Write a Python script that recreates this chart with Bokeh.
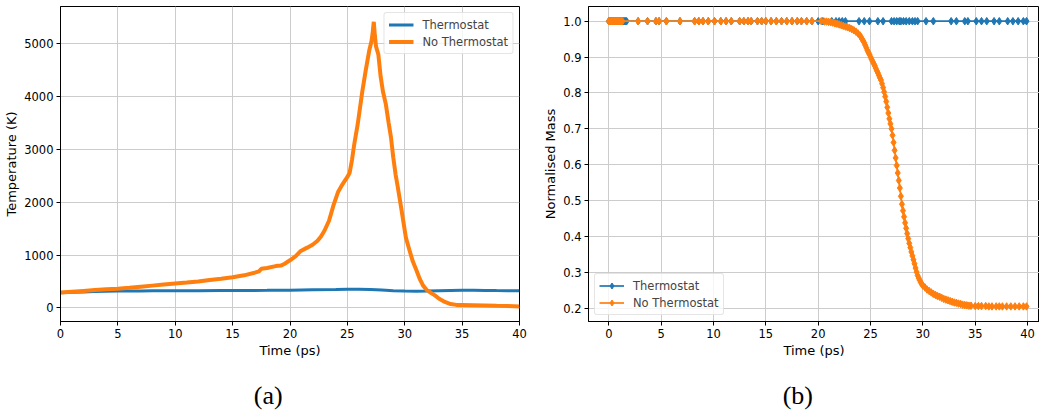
from bokeh.plotting import figure
from bokeh.layouts import row, column
from bokeh.models import Range1d, FixedTicker, NumeralTickFormatter, Label
from bokeh.embed import file_html
from bokeh.resources import INLINE

# ---------------- data ----------------
time_ticks = [0, 5, 10, 15, 20, 25, 30, 35, 40]
temp_ticks = [0, 1000, 2000, 3000, 4000, 5000]
mass_ticks = [0.2, 0.3, 0.4, 0.5, 0.6, 0.7, 0.8, 0.9, 1.0]

# (a) temperature
temp_thermo_t = [0, 1, 2, 3, 4, 5, 6, 7, 8, 9, 10, 12, 14, 16, 18, 20, 22, 24, 25, 26,
                 27, 28, 29, 30, 31, 32, 33, 34, 35, 36, 37, 38, 39, 40]
temp_thermo = [285, 293, 300, 307, 312, 317, 319, 320, 321, 322, 323, 324, 326, 328, 330,
               333, 340, 346, 350, 350, 345, 335, 325, 316, 313, 318, 325, 328, 330, 330,
               328, 326, 325, 324]

temp_nothermo_t = [0, 1, 2, 3, 4, 5, 6, 7, 8, 9, 10, 11, 12, 13, 14, 15, 16, 17, 17.3, 17.5,
                   18, 18.75, 19.2, 19.5, 20, 20.5, 20.9, 21.5, 22, 22.4, 22.7, 23, 23.4,
                   23.8, 24.2, 24.6, 25.0, 25.2, 25.4, 25.6, 25.9, 26.3, 26.6, 26.9, 27.1,
                   27.2, 27.3, 27.4, 27.5, 27.7, 27.9, 28.1, 28.35, 28.6, 28.8, 29.0, 29.2,
                   29.4, 29.7, 30.1, 30.4, 30.7, 31.0, 31.3, 31.6, 31.9, 32.3, 32.6, 33.0,
                   33.5, 34.0, 34.5, 35, 36, 37, 38, 39, 40]
temp_nothermo = [290, 305, 320, 335, 350, 362, 380, 400, 420, 440, 460, 478, 500, 525, 550,
                 580, 615, 670, 690, 740, 755, 790, 800, 830, 900, 980, 1070, 1140, 1200,
                 1270, 1350, 1460, 1650, 1950, 2200, 2350, 2480, 2560, 2800, 3100, 3480,
                 4100, 4500, 4870, 5050, 5200, 5420, 5150, 4950, 4800, 4380, 4100, 3860,
                 3500, 3230, 2850, 2530, 2280, 1880, 1330, 1100, 880, 720, 550, 420, 340,
                 280, 240, 170, 110, 70, 55, 55, 50, 45, 38, 32, 25]

# (b) normalised mass
mass_thermo_t = [0.0, 0.1, 0.2, 0.3, 0.4, 0.5, 0.6, 0.7, 0.8, 0.9, 1.0, 1.1, 1.2, 1.3, 1.4,
                 1.5, 1.6, 1.7, 2.8, 3.7, 4.5, 4.8, 5.5, 6.8, 8.2, 8.6, 9.0, 9.5, 10.1, 10.7,
                 11.2, 11.7, 12.5, 12.9, 13.3, 13.6, 14.2, 14.6, 15.0, 15.5, 16.0, 16.5,
                 17.0, 17.5, 18.0, 18.4, 18.9, 19.4, 20.0, 20.45, 21.3, 21.7, 22.0, 22.3,
                 22.6, 23.9, 24.4, 24.9, 25.7, 26.2, 27.0, 27.25, 27.5, 27.75, 27.9, 28.15,
                 28.4, 28.7, 29.0, 29.25, 29.5, 30.3, 31.0, 32.7, 33.2, 34.0, 34.3, 35.1,
                 35.6, 36.1, 36.8, 37.3, 38.1, 38.6, 39.1, 39.6, 39.9]
mass_thermo = [1.0, 1.0, 1.0, 1.0, 1.0, 1.0, 1.0, 1.0, 1.0, 1.0, 1.0, 1.0, 1.0, 1.0, 1.0,
               1.0, 1.0, 1.0, 1.0, 1.0, 1.0, 1.0, 1.0, 1.0, 1.0, 1.0, 1.0, 1.0, 1.0, 1.0,
               1.0, 1.0, 1.0, 1.0, 1.0, 1.0, 1.0, 1.0, 1.0, 1.0, 1.0, 1.0, 1.0, 1.0, 1.0,
               1.0, 1.0, 1.0, 1.0, 1.0, 1.0, 1.0, 1.0, 1.0, 1.0, 1.0, 1.0, 1.0, 1.0, 1.0,
               1.0, 1.0, 1.0, 1.0, 1.0, 1.0, 1.0, 1.0, 1.0, 1.0, 1.0, 1.0, 1.0, 1.0, 1.0,
               1.0, 1.0, 1.0, 1.0, 1.0, 1.0, 1.0, 1.0, 1.0, 1.0, 1.0, 1.0]

mass_nothermo_t = [0.0, 0.1, 0.2, 0.3, 0.4, 0.5, 0.6, 0.7, 0.8, 0.9, 1.0, 1.1, 1.2, 1.3,
                   2.8, 3.7, 4.5, 4.8, 5.5, 6.8, 8.2, 8.6, 9.0, 9.5, 10.1, 10.7, 11.2, 11.7,
                   12.5, 12.9, 13.3, 13.6, 14.2, 14.6, 15.0, 15.5, 16.0, 16.5, 17.0, 17.5,
                   18.0, 18.4, 18.9, 19.4, 20.3,
                   20.6, 20.8, 21.0, 21.2, 21.4, 21.6, 21.8, 22.0, 22.2, 22.4, 22.6, 22.8,
                   23.0, 23.2, 23.4, 23.6, 23.8, 24.0, 24.1, 24.2, 24.3, 24.4, 24.5, 24.6,
                   24.7, 24.8, 24.9, 25.0, 25.1, 25.2, 25.3, 25.4, 25.5, 25.6, 25.7, 25.8,
                   25.9, 26.0, 26.1, 26.2, 26.3, 26.4, 26.5, 26.6, 26.7, 26.8, 26.9, 27.0,
                   27.1, 27.2, 27.3, 27.4, 27.5, 27.6, 27.7, 27.8, 27.9, 28.0, 28.1, 28.2,
                   28.3, 28.4, 28.5, 28.6, 28.7, 28.8, 28.9, 29.0, 29.1, 29.2, 29.3, 29.4,
                   29.5, 29.6, 29.7, 29.8, 29.9, 30.0, 30.2, 30.4, 30.6, 30.8, 31.0, 31.2,
                   31.4, 31.6, 31.8, 32.0, 32.2, 32.4, 32.6, 32.8, 33.0, 33.2, 33.4, 33.6,
                   33.8, 34.0, 34.2, 34.4, 34.6, 35.0, 35.3, 35.6, 36.0, 36.3, 36.6, 37.0,
                   37.3, 37.6, 38.0, 38.4, 38.8, 39.2, 39.6, 39.9]
mass_nothermo = [1.0, 1.0, 1.0, 1.0, 1.0, 1.0, 1.0, 1.0, 1.0, 1.0, 1.0, 1.0, 1.0, 1.0,
                 1.0, 1.0, 1.0, 1.0, 1.0, 1.0, 1.0, 1.0, 1.0, 1.0, 1.0, 1.0, 1.0, 1.0,
                 1.0, 1.0, 1.0, 1.0, 1.0, 1.0, 1.0, 1.0, 1.0, 1.0, 1.0, 1.0,
                 1.0, 1.0, 1.0, 1.0, 1.0,
                 0.999, 0.999, 0.998, 0.997, 0.996, 0.994, 0.993, 0.991, 0.989, 0.987,
                 0.985, 0.983, 0.981, 0.978, 0.975, 0.971, 0.966, 0.960, 0.955, 0.950,
                 0.945, 0.940, 0.933, 0.926, 0.919, 0.913, 0.907, 0.900, 0.894, 0.888,
                 0.882, 0.876, 0.869, 0.862, 0.856, 0.849, 0.842, 0.836, 0.826, 0.815,
                 0.803, 0.790, 0.776, 0.760, 0.744, 0.728, 0.714, 0.700, 0.682, 0.662,
                 0.640, 0.619, 0.598, 0.577, 0.556, 0.535, 0.512, 0.490, 0.472, 0.455,
                 0.438, 0.423, 0.408, 0.394, 0.381, 0.369, 0.357, 0.346, 0.335, 0.324,
                 0.312, 0.301, 0.291, 0.284, 0.278, 0.272, 0.267, 0.263, 0.258, 0.252,
                 0.248, 0.244, 0.240, 0.237, 0.234, 0.232, 0.229, 0.226, 0.224, 0.222,
                 0.220, 0.218, 0.216, 0.215, 0.213, 0.212, 0.210, 0.209, 0.208, 0.207,
                 0.207, 0.206, 0.206, 0.206, 0.206, 0.205, 0.205, 0.205, 0.205, 0.205,
                 0.205, 0.205, 0.205, 0.205, 0.205, 0.205]

BLUE = "#1f77b4"
ORANGE = "#ff7f0e"
FONT = "DejaVu Sans"


def style(p, xticks, yticks):
    p.outline_line_color = "black"
    p.outline_line_width = 1
    p.xaxis.ticker = FixedTicker(ticks=xticks)
    p.yaxis.ticker = FixedTicker(ticks=yticks)
    for ax in (p.xaxis[0], p.yaxis[0]):
        ax.axis_line_color = "black"
        ax.major_tick_out = 4
        ax.major_tick_in = 0
        ax.minor_tick_out = 0
        ax.minor_tick_in = 0
        ax.major_label_text_font = FONT
        ax.major_label_text_font_size = "11.5px"
        ax.major_label_text_color = "black"
        ax.axis_label_text_font = FONT
        ax.axis_label_text_font_size = "13px"
        ax.axis_label_text_font_style = "normal"
        ax.axis_label_text_color = "black"
        ax.major_label_standoff = 3
    p.xaxis[0].axis_label_standoff = 2
    p.yaxis[0].axis_label_standoff = 2
    p.xgrid.grid_line_color = "#cccccc"
    p.ygrid.grid_line_color = "#cccccc"
    p.xgrid.grid_line_width = 1
    p.ygrid.grid_line_width = 1
    p.background_fill_color = "white"
    p.border_fill_color = "white"


def style_legend(leg):
    leg.margin = 6
    leg.padding = 4
    leg.spacing = 2
    leg.label_text_font = FONT
    leg.label_text_font_size = "11.5px"
    leg.glyph_width = 25
    leg.glyph_height = 15
    leg.label_height = 15
    leg.label_standoff = 9
    leg.border_line_color = "#cccccc"
    leg.border_line_width = 1
    leg.border_radius = 3
    leg.background_fill_alpha = 0.8


PLOT_H = 372
CAP_H = 410 - PLOT_H


def caption_fig(width, text, cx):
    c = figure(width=width, height=CAP_H, x_range=Range1d(0, width), y_range=Range1d(0, CAP_H),
               output_backend="svg", toolbar_location=None,
               x_axis_location=None, y_axis_location=None,
               min_border=0, min_border_left=0, min_border_right=0,
               min_border_top=0, min_border_bottom=0)
    c.xgrid.visible = False
    c.ygrid.visible = False
    c.outline_line_color = None
    c.background_fill_color = "white"
    c.border_fill_color = "white"
    c.add_layout(Label(x=cx, y=CAP_H - (394.5 - PLOT_H), text=text,
                       text_font="Liberation Serif", text_font_size="26px",
                       text_align="center", text_baseline="middle", text_color="black"))
    return c


# ---------------- (a) ----------------
p1 = figure(width=530, height=PLOT_H, x_range=Range1d(0, 40), y_range=Range1d(-260, 5710),
            output_backend="svg", toolbar_location=None,
            min_border_left=60, min_border_right=11, min_border_top=6,
            min_border_bottom=PLOT_H - 321)
style(p1, time_ticks, temp_ticks)
p1.yaxis.formatter = NumeralTickFormatter(format="0")
p1.xaxis.axis_label = "Time (ps)"
p1.yaxis.axis_label = "Temperature (K)"
p1.line(temp_thermo_t, temp_thermo, line_color=BLUE, line_width=3, legend_label="Thermostat")
p1.line(temp_nothermo_t, temp_nothermo, line_color=ORANGE, line_width=4,
        legend_label="No Thermostat")
p1.legend.location = "top_right"
style_legend(p1.legend[0])

# ---------------- (b) ----------------
p2 = figure(width=509, height=PLOT_H, x_range=Range1d(-1.94, 41.14), y_range=Range1d(0.163, 1.041),
            output_backend="svg", toolbar_location=None,
            min_border_left=58, min_border_right=0, min_border_top=6,
            min_border_bottom=PLOT_H - 321)
style(p2, time_ticks, mass_ticks)
p2.yaxis.formatter = NumeralTickFormatter(format="0.0")
p2.xaxis.axis_label = "Time (ps)"
p2.yaxis.axis_label = "Normalised Mass"
p2.line(mass_thermo_t, mass_thermo, line_color=BLUE, line_width=1.7, legend_label="Thermostat")
p2.scatter(mass_thermo_t, mass_thermo, marker="diamond", size=7.5, fill_color=BLUE,
           line_color=BLUE, line_width=1, legend_label="Thermostat")
p2.line(mass_nothermo_t, mass_nothermo, line_color=ORANGE, line_width=1.7,
        legend_label="No Thermostat")
p2.scatter(mass_nothermo_t, mass_nothermo, marker="diamond", size=7.5, fill_color=ORANGE,
           line_color=ORANGE, line_width=1, legend_label="No Thermostat")
p2.legend.location = "bottom_left"
style_legend(p2.legend[0])

c1 = caption_fig(530, "(a)", 267.7)
c2 = caption_fig(509, "(b)", 797.3 - 530)

layout = column(row(p1, p2), row(c1, c2))
open("out.html", "w").write(file_html(layout, INLINE))
